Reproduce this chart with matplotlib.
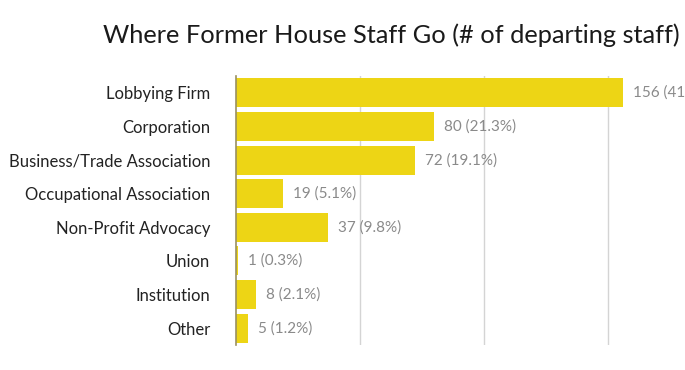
import matplotlib
matplotlib.use("Agg")
import matplotlib.pyplot as plt

# data
categories = ["Lobbying Firm", "Corporation", "Business/Trade Association",
              "Occupational Association", "Non-Profit Advocacy", "Union",
              "Institution", "Other"]
counts = [156, 80, 72, 19, 37, 1, 8, 5]
shares = ["41.6%", "21.3%", "19.1%", "5.1%", "9.8%", "0.3%", "2.1%", "1.2%"]

plt.rcParams["font.family"] = ["Lato", "DejaVu Sans"]

W, H = 685, 370
fig = plt.figure(figsize=(W / 100, H / 100), dpi=100)
# axes in pixel terms: left 236, right 685, top 76, bottom 345
ax = fig.add_axes([236 / W, 1 - 345 / H, (685 - 236) / W, (345 - 76) / H])

ypos = list(range(len(categories)))
ax.barh(ypos, counts, height=0.86, color="#EDD515", zorder=2)
# the first label runs past the right edge, as in the reference
for y, c, s in zip(ypos, counts, shares):
    ax.text(c + 4, y, f"{c} ({s})", va="center", ha="left",
            fontsize=11, color="#8a8a8a", zorder=3)

ax.set_ylim(len(categories) - 0.5, -0.5)
ax.set_xlim(0, 181)
ax.set_yticks(ypos)
ax.set_yticklabels(categories, fontsize=12, color="#222222")
ax.tick_params(axis="y", length=0, pad=18.5)
ax.set_xticks([50, 100, 150])
ax.tick_params(axis="x", length=0, labelbottom=False)
ax.grid(axis="x", color="#d4d4d4", linewidth=1, zorder=1)
for side in ["top", "right", "bottom"]:
    ax.spines[side].set_visible(False)
ax.spines["left"].set_color("#9a9060")
ax.spines["left"].set_linewidth(1.2)
ax.spines["left"].set_zorder(4)

fig.text(391 / W, 1 - 35 / H, "Where Former House Staff Go (# of departing staff)",
         ha="center", va="center", fontsize=18.3, color="#1a1a1a")

fig.savefig("out.png", dpi=100)
